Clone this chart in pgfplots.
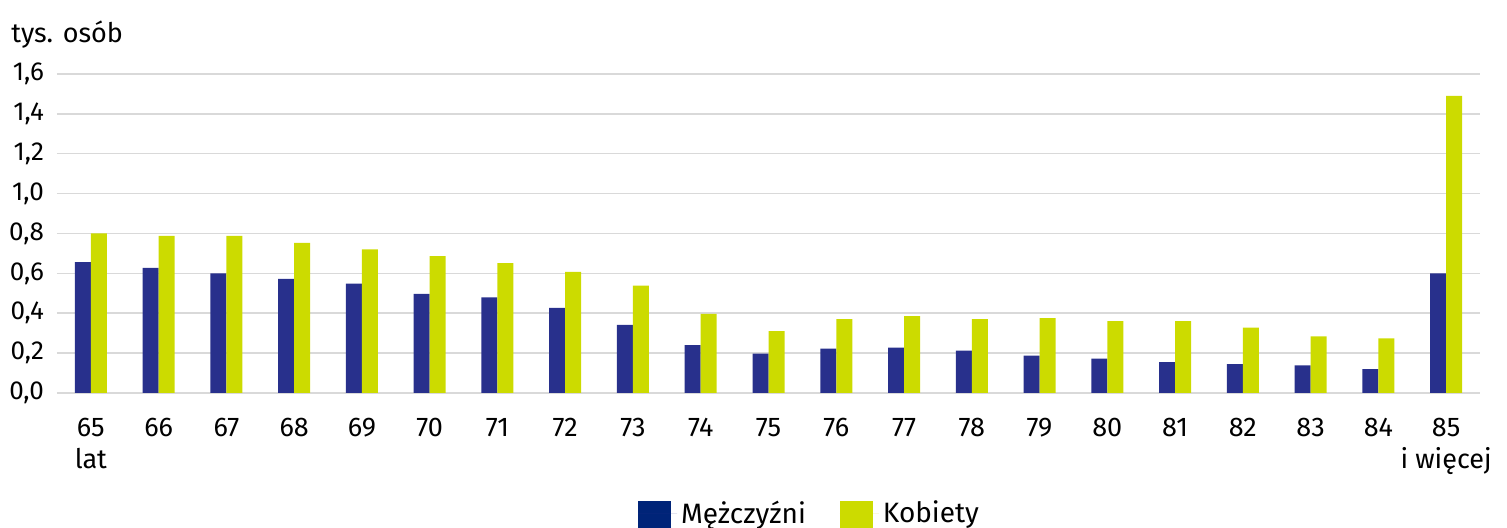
\documentclass[border=0pt]{standalone}
\usepackage{pgfplots}
\pgfplotsset{compat=1.18}
\usepackage{fontspec}
\setmainfont{Fira Sans}
\definecolor{mblue}{RGB}{40,48,140}
\definecolor{lblue}{RGB}{0,36,120}
\definecolor{kgreen}{RGB}{204,219,0}
\definecolor{gridgray}{RGB}{217,217,217}
\begin{document}
\fontsize{13}{16}\selectfont
\begin{tikzpicture}
\begin{axis}[
  name=ax,
  scale only axis,
  clip=false,
  width=711.5pt, height=159.5pt,
  ybar=0pt, bar width=8pt,
  xmin=-0.5, xmax=20.5,
  ymin=0, ymax=1.6,
  ytick={0,0.2,...,1.6},
  xtick={0,...,20},
  xticklabels={{65\\lat},66,67,68,69,70,71,72,73,74,75,76,77,78,79,80,81,82,83,84,{85\\i więcej}},
  xticklabel style={align=center, font=\fontsize{13.5}{16}\selectfont, yshift=-8pt},
  yticklabel style={font=\fontsize{13}{15}\selectfont, xshift=-2pt},
  /pgf/number format/.cd, fixed, fixed zerofill, precision=1, use comma, assume math mode=true,
  /pgfplots/.cd,
  axis line style={draw=none},
  major tick length=0pt,
  xmajorgrids=false, ymajorgrids=true,
  major grid style={draw=gridgray, line width=0.75pt},
  legend style={draw=none, at={(0.5295,-0.311)}, anchor=north, legend columns=2,
    font=\fontsize{14}{16}\selectfont, /tikz/every even column/.append style={column sep=15pt}},
  legend cell align=left,
]
\addplot[fill=mblue, draw=none, legend image code/.code={\fill[lblue] (0pt,-10pt) rectangle (16.5pt,6.5pt); \path (0pt,0pt) -- (19.5pt,0pt);}] coordinates {
(0,0.657) (1,0.627) (2,0.60) (3,0.572) (4,0.548) (5,0.497) (6,0.479) (7,0.427) (8,0.342) (9,0.240) (10,0.198) (11,0.223) (12,0.228) (13,0.213) (14,0.188) (15,0.172) (16,0.155) (17,0.145) (18,0.138) (19,0.120) (20,0.60)};
\addplot[fill=kgreen, draw=none, legend image code/.code={\fill[kgreen] (0pt,-10pt) rectangle (16.5pt,6.5pt); \path (0pt,0pt) -- (19.5pt,0pt);}] coordinates {
(0,0.80) (1,0.788) (2,0.788) (3,0.753) (4,0.720) (5,0.687) (6,0.652) (7,0.607) (8,0.538) (9,0.397) (10,0.310) (11,0.370) (12,0.385) (13,0.370) (14,0.376) (15,0.360) (16,0.360) (17,0.328) (18,0.284) (19,0.274) (20,1.49)};
\legend{Mężczyźni,Kobiety}
\node[anchor=base west, inner sep=0pt, font=\fontsize{13.5}{16}\selectfont] at (axis description cs:-0.0323,1.100) {tys. osób};
\end{axis}
\pgfresetboundingbox
\path ([xshift=-28.5pt,yshift=-67.5pt]ax.south west) rectangle ([xshift=13.5pt,yshift=37pt]ax.north east);
\end{tikzpicture}
\end{document}
